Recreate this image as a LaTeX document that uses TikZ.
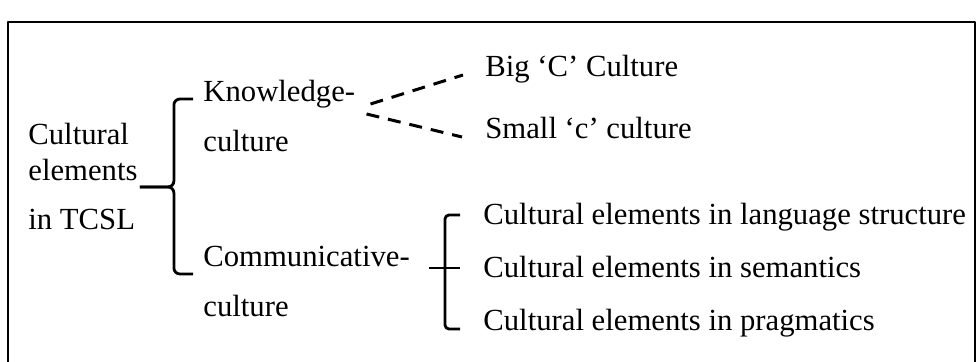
\documentclass[tikz,border=0pt]{standalone}
\usepackage{fontspec}
\setmainfont{Liberation Serif}
\usetikzlibrary{calc}

\tikzset{
  leaf/.style={anchor=base west,inner sep=0pt,font=\fontsize{15.35}{18}\selectfont},
  brace/.style={line width=1.4pt,rounded corners=3pt},
  dashlink/.style={line width=1.5pt,dash pattern=on 6.5pt off 4.5pt},
}

\begin{document}
\begin{tikzpicture}[x=0.5pt,y=-0.5pt,line join=round]
\useasboundingbox (0,0) rectangle (976,362);
% frame, open at the bottom
\draw[line width=1pt] (8,362) -- (8,22) -- (975,22) -- (975,362);

% left column
\node[leaf] (root) at (28,145) {Cultural};
\node[leaf] (root2) at (28,181) {elements};
\node[leaf] (root3) at (28,230) {in TCSL};
\node[leaf] (know) at (203,102) {Knowledge-};
\node[leaf] (know2) at (203,152) {culture};
\node[leaf] (comm) at (203,267) {Communicative-};
\node[leaf] (comm2) at (203,317) {culture};

% right column
\node[leaf] (bigc) at (485,77) {Big ‘C’ Culture};
\node[leaf] (smallc) at (485,139) {Small ‘c’ culture};
\node[leaf] (struct) at (483,225) {Cultural elements in language structure};
\node[leaf] (sem) at (483,278) {Cultural elements in semantics};
\node[leaf] (prag) at (483,331) {Cultural elements in pragmatics};

% first brace
\coordinate (tip1) at ($(root2.base east)+(2,6)$);
\coordinate (mid1) at ($(tip1)+(34,0)$);
\draw[brace] ($(know.base west)+(-10,-3)$) -| (mid1) -- (tip1);
\draw[brace] ($(comm.base west)+(-10,7)$) -| (mid1) -- (tip1);

% dashed links
\draw[dashlink] ($(know.base east)+(15,2)$) -- ($(bigc.base west)+(-22,-2)$);
\draw[dashlink] ($(know.base east)+(11,12)$) -- ($(smallc.base west)+(-23,-2)$);

% second brace
\draw[brace,rounded corners=2pt] ($(struct.base west)+(-23,-10)$) -| ($(prag.base west)+(-38,-2)$) -- ($(prag.base west)+(-23,-2)$);
\draw[brace] ($(comm.base east)+(19,1)$) -- ($(sem.base west)+(-23,-10)$);
\end{tikzpicture}
\end{document}
